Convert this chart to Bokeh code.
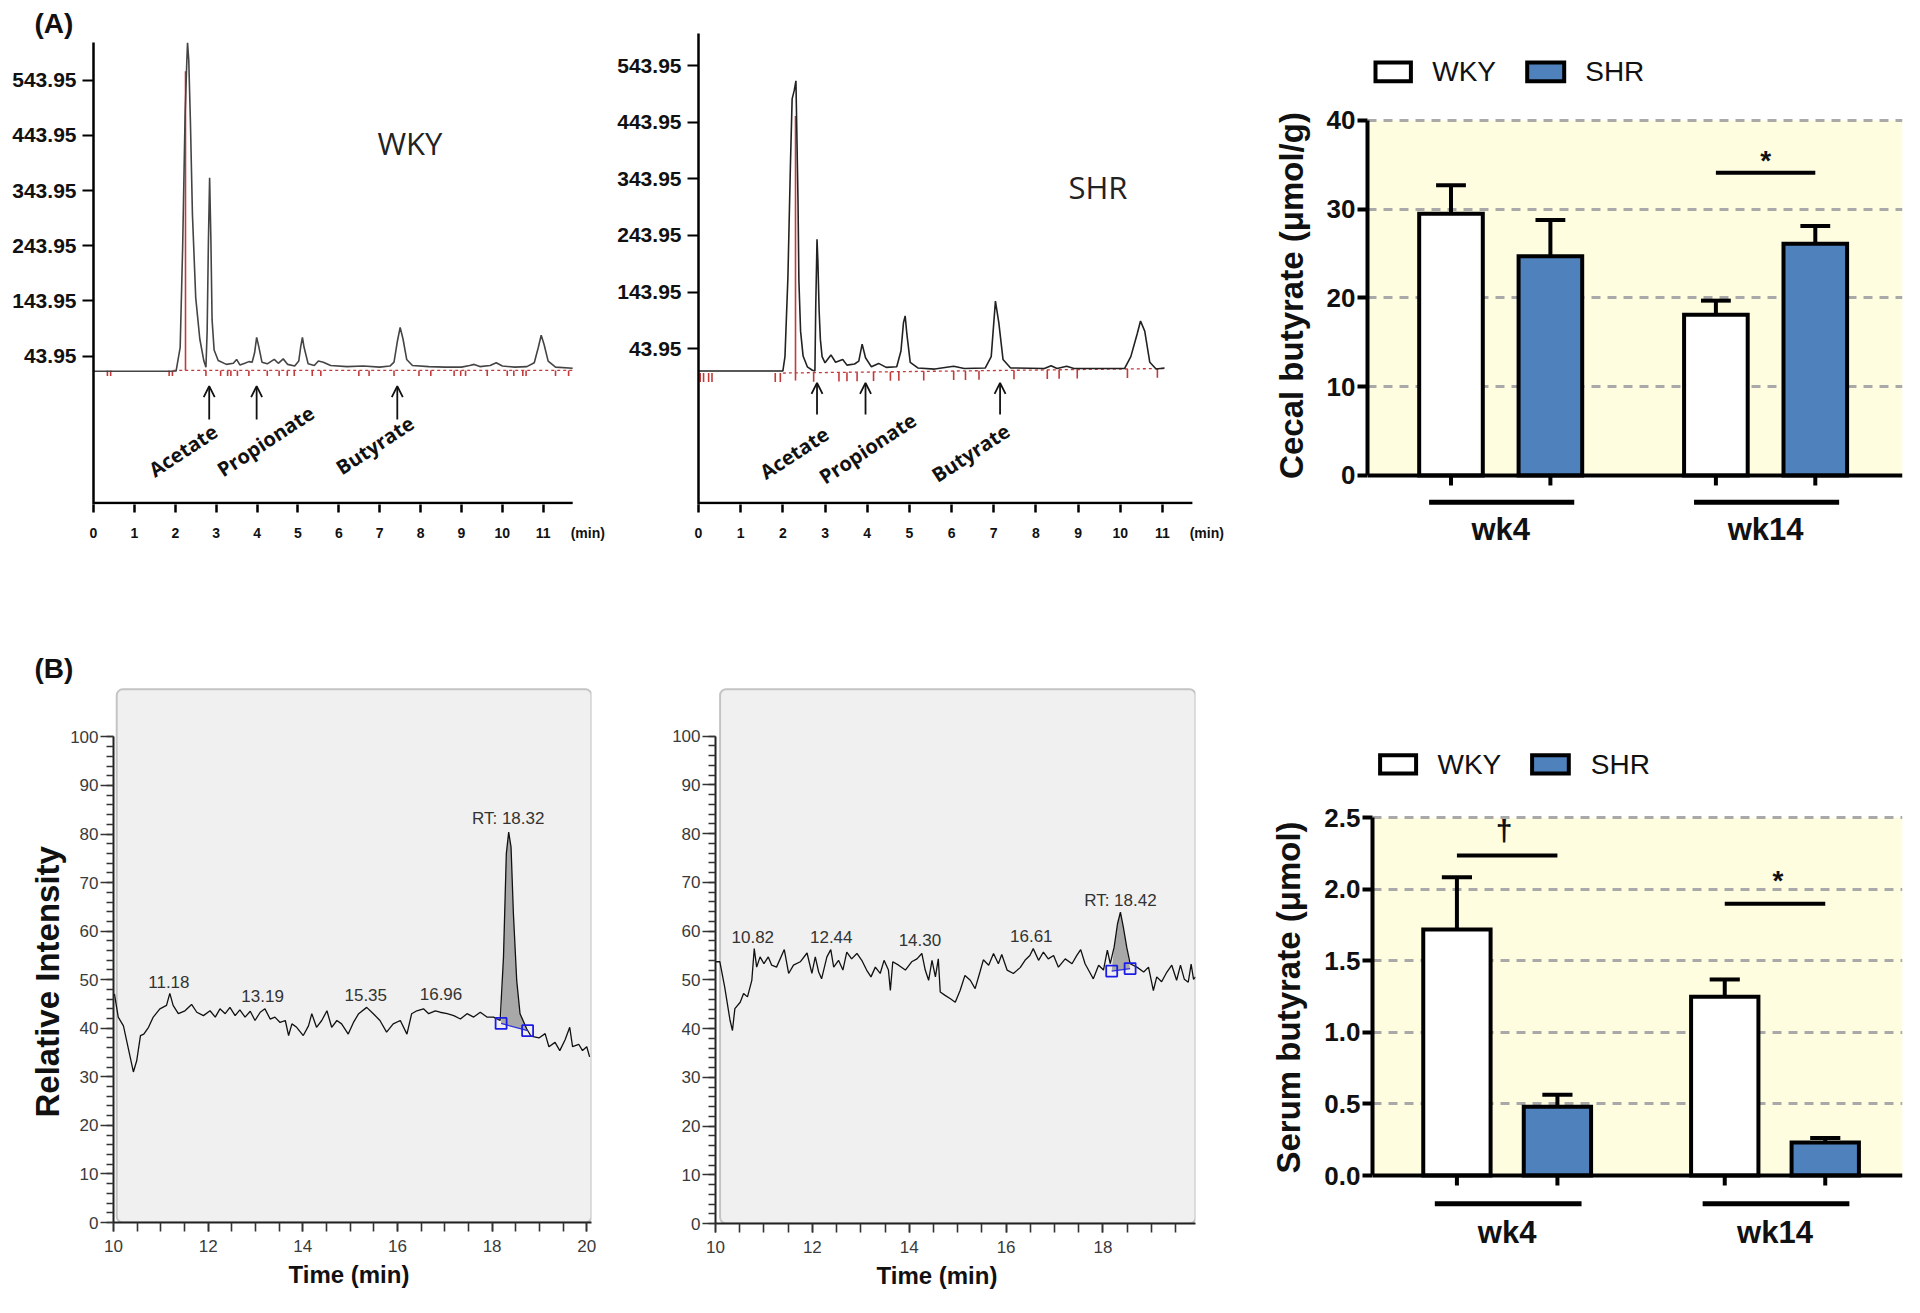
import numpy as np
from bokeh.plotting import figure
from bokeh.layouts import row, column
from bokeh.models import FixedTicker, Arrow, OpenHead, BoxAnnotation, PrintfTickFormatter, Title, Plot
from bokeh.core.properties import value
from bokeh.embed import file_html
from bokeh.resources import INLINE

ARIAL = "Liberation Sans"
HUMAN = "Open Sans"
BLUE = "#4F81BD"
CREAM = "#FFFDE0"
RED = "#C23B3B"

# ======================= DATA =======================
# (A) GC chromatograms (time in min, signal)
gc_x_ticks = list(range(0, 12))
gc_y_ticks = [43.95, 143.95, 243.95, 343.95, 443.95, 543.95]
acids = ["Acetate", "Propionate", "Butyrate"]

wky_gc = [(0.00, 16.7), (1.85, 16.7), (2.02, 17), (2.12, 60), (2.18, 240), (2.24, 480), (2.28, 573),
          (2.30, 612), (2.33, 580), (2.37, 470), (2.42, 300), (2.50, 150), (2.60, 75), (2.70, 35),
          (2.75, 24), (2.78, 90), (2.81, 250), (2.84, 367), (2.87, 260), (2.90, 110), (2.95, 55),
          (3.05, 36), (3.25, 29), (3.42, 31), (3.50, 38), (3.58, 28), (3.70, 31), (3.80, 34), (3.88, 33),
          (3.94, 50), (3.99, 78), (4.04, 62), (4.12, 33), (4.25, 30), (4.42, 38), (4.52, 31), (4.64, 39),
          (4.75, 29), (4.92, 26), (5.02, 35), (5.07, 62), (5.11, 78), (5.15, 60), (5.25, 30), (5.40, 27),
          (5.50, 35), (5.62, 33), (5.80, 27), (6.20, 25), (6.60, 26), (7.00, 24), (7.25, 26), (7.35, 33),
          (7.43, 70), (7.50, 96), (7.57, 75), (7.66, 38), (7.80, 27), (8.20, 25), (8.60, 24), (9.00, 24),
          (9.20, 27), (9.31, 29), (9.45, 25), (9.70, 27), (9.85, 32), (10.00, 26), (10.30, 24), (10.60, 25),
          (10.78, 32), (10.88, 60), (10.95, 82), (11.02, 65), (11.12, 35), (11.30, 24), (11.72, 22)]

shr_gc = [(0.00, 4.5), (2.00, 4.5), (2.05, 30), (2.12, 170), (2.18, 370), (2.22, 485), (2.27, 500),
          (2.31, 517), (2.33, 432), (2.36, 300), (2.38, 165), (2.42, 75), (2.48, 31), (2.58, 12),
          (2.70, 6), (2.76, 4.5), (2.78, 120), (2.81, 237), (2.83, 200), (2.86, 111), (2.89, 60),
          (2.93, 30), (3.00, 19), (3.14, 33), (3.25, 20), (3.42, 25), (3.52, 15), (3.70, 17), (3.80, 22),
          (3.88, 52), (3.96, 28), (4.10, 12), (4.27, 18), (4.45, 11), (4.70, 12), (4.80, 40), (4.86, 90),
          (4.90, 102), (4.94, 70), (5.02, 20), (5.20, 10), (5.60, 8), (6.05, 13), (6.30, 9), (6.80, 10),
          (6.94, 30), (7.04, 128), (7.12, 90), (7.22, 25), (7.40, 10), (8.20, 9), (8.36, 14), (8.50, 9),
          (8.73, 13), (8.90, 9), (10.10, 9), (10.25, 30), (10.40, 70), (10.48, 93), (10.58, 75),
          (10.70, 20), (10.85, 8), (11.05, 10)]

wky_acid_rt = [2.83, 3.99, 7.43]
shr_acid_rt = [2.81, 3.96, 7.15]
wky_int_marks = [0.34, 0.42, 1.85, 1.93, 2.75, 3.11, 3.28, 3.36, 3.52, 3.80, 4.25, 4.54, 4.74, 4.91,
                 5.35, 5.56, 6.49, 6.74, 7.35, 7.96, 8.25, 8.82, 8.98, 9.10, 9.63, 10.12, 10.28,
                 10.50, 10.58, 11.30, 11.62]
shr_int_marks = [0.04, 0.12, 0.24, 0.32, 1.82, 1.94, 2.73, 3.33, 3.52, 3.76, 4.15, 4.55, 4.75, 5.34,
                 6.05, 6.33, 6.65, 7.48, 8.27, 8.55, 8.98, 10.17, 10.88]

# Cecal butyrate (umol/g), mean and SEM
weeks = ["wk4", "wk14"]
strains = ["WKY", "SHR"]
cecal_wky = [29.5, 18.1]
cecal_wky_sem = [3.2, 1.6]
cecal_shr = [24.7, 26.1]
cecal_shr_sem = [4.1, 2.0]
cecal_ticks = [0, 10, 20, 30, 40]

# (B) LC-MS chromatograms (time in min, relative intensity)
lc_wky = [(10.02, 47.1), (10.10, 42.3), (10.21, 40.5), (10.42, 31.0), (10.49, 33.3), (10.57, 38.5),
          (10.64, 38.8), (10.74, 40.2), (10.84, 42.3), (10.98, 44.0), (11.12, 44.7), (11.19, 47.2),
          (11.26, 44.7), (11.37, 43.0), (11.51, 43.6), (11.65, 44.9), (11.76, 43.3), (11.90, 42.6),
          (12.04, 43.6), (12.15, 42.3), (12.25, 44.0), (12.36, 43.0), (12.46, 44.3), (12.57, 42.6),
          (12.67, 43.8), (12.78, 42.3), (12.89, 43.5), (12.99, 41.6), (13.10, 43.3), (13.20, 44.0),
          (13.31, 41.9), (13.41, 42.3), (13.52, 41.2), (13.63, 41.6), (13.70, 38.5), (13.77, 40.9),
          (13.87, 40.2), (14.01, 38.5), (14.12, 40.5), (14.19, 43.0), (14.29, 40.2), (14.40, 41.6),
          (14.51, 43.6), (14.61, 40.2), (14.72, 41.6), (14.82, 40.9), (14.96, 38.8), (15.07, 41.2),
          (15.18, 43.0), (15.35, 44.3), (15.49, 43.0), (15.63, 41.6), (15.77, 39.2), (15.91, 40.9),
          (16.06, 41.6), (16.20, 38.8), (16.30, 43.0), (16.41, 43.6), (16.55, 44.0), (16.66, 43.0),
          (16.80, 43.6), (16.90, 43.3), (17.05, 43.0), (17.19, 42.6), (17.33, 41.9), (17.47, 43.0),
          (17.61, 42.3), (17.75, 43.3), (17.89, 42.3), (18.03, 42.3), (18.17, 41.6), (18.24, 54.6),
          (18.30, 75.9), (18.35, 80.4), (18.40, 77.3), (18.45, 63.6), (18.52, 49.8), (18.59, 43.0),
          (18.73, 39.9), (18.82, 38.4), (18.99, 38.0), (19.12, 38.9), (19.20, 36.2), (19.33, 37.1),
          (19.43, 35.4), (19.54, 37.6), (19.64, 40.2), (19.70, 36.2), (19.83, 36.7), (19.91, 35.4),
          (20.00, 36.2), (20.06, 34.1)]

lc_shr = [(10.00, 53.7), (10.09, 53.7), (10.19, 48.5), (10.30, 41.7), (10.35, 39.6), (10.40, 44.1),
          (10.51, 45.4), (10.58, 47.2), (10.66, 46.5), (10.75, 49.9), (10.80, 56.4), (10.85, 52.6),
          (10.92, 54.7), (11.00, 53.3), (11.09, 54.7), (11.16, 53.0), (11.26, 52.6), (11.42, 56.2),
          (11.51, 51.3), (11.61, 53.0), (11.75, 53.7), (11.89, 55.5), (11.99, 51.3), (12.06, 54.7),
          (12.13, 51.6), (12.19, 50.2), (12.30, 54.7), (12.38, 56.2), (12.44, 52.6), (12.54, 54.0),
          (12.63, 52.0), (12.71, 55.7), (12.81, 54.3), (12.92, 55.4), (13.02, 54.0), (13.12, 52.0),
          (13.21, 50.6), (13.30, 52.6), (13.40, 51.3), (13.48, 54.0), (13.57, 52.0), (13.61, 47.8),
          (13.66, 53.7), (13.78, 53.0), (13.92, 52.0), (14.05, 53.7), (14.16, 54.3), (14.26, 55.4),
          (14.33, 52.0), (14.40, 49.9), (14.47, 54.0), (14.54, 50.6), (14.60, 54.3), (14.64, 47.5),
          (14.74, 46.8), (14.85, 46.1), (14.95, 45.4), (15.05, 47.8), (15.15, 50.9), (15.26, 49.9),
          (15.36, 48.2), (15.46, 51.6), (15.53, 54.1), (15.64, 53.0), (15.74, 55.4), (15.84, 53.3),
          (15.91, 55.2), (16.02, 52.0), (16.15, 51.3), (16.29, 52.5), (16.39, 54.0), (16.49, 55.0),
          (16.56, 56.4), (16.67, 54.0), (16.77, 55.7), (16.87, 54.3), (16.98, 55.0), (17.08, 52.6),
          (17.22, 54.3), (17.36, 53.3), (17.46, 55.0), (17.54, 56.2), (17.63, 53.3), (17.74, 51.3),
          (17.80, 50.2), (17.91, 53.0), (18.01, 52.0), (18.09, 56.1), (18.15, 53.3), (18.23, 56.7),
          (18.30, 61.5), (18.36, 63.9), (18.42, 60.8), (18.49, 56.7), (18.56, 53.3), (18.70, 52.6),
          (18.84, 51.6), (18.94, 52.6), (19.04, 47.8), (19.11, 50.6), (19.21, 49.6), (19.32, 51.6),
          (19.42, 53.0), (19.52, 49.9), (19.60, 53.0), (19.68, 50.1), (19.76, 49.5), (19.82, 53.2),
          (19.87, 50.1), (19.91, 50.6)]

lc_wky_peak_edges = [(18.19, 41.0), (18.75, 39.5)]
lc_shr_peak_edges = [(18.18, 51.8), (18.56, 52.3)]
lc_wky_labels = ["11.18", "13.19", "15.35", "16.96", "RT: 18.32"]
lc_wky_label_t = [11.17, 13.15, 15.33, 16.92, 18.34]
lc_wky_label_v = [49.5, 46.7, 46.9, 47.1, 83.1]
lc_shr_labels = ["10.82", "12.44", "14.30", "16.61", "RT: 18.42"]
lc_shr_label_t = [10.77, 12.39, 14.22, 16.52, 18.36]
lc_shr_label_v = [58.8, 58.8, 58.1, 59.0, 66.3]

# Serum butyrate (umol), mean and SEM
serum_wky = [1.72, 1.25]
serum_wky_sem = [0.365, 0.12]
serum_shr = [0.48, 0.23]
serum_shr_sem = [0.085, 0.033]
serum_ticks = [0.0, 0.5, 1.0, 1.5, 2.0, 2.5]

# ======================= HELPERS =======================
ROW1_H, ROW2_H = 650, 647
EXTRA = {"frame_align": False} if "frame_align" in Plot.properties() else {}


def base_fig(width, height, xr, yr, left, right, top, bottom):
    p = figure(width=width, height=height, x_range=xr, y_range=yr, output_backend="svg",
               toolbar_location=None, title=None,
               min_border_left=left, min_border_right=right, min_border_top=top, min_border_bottom=bottom,
               **EXTRA)
    p.outline_line_color = None
    p.background_fill_color = "white"
    p.border_fill_color = "white"
    return p


def panel_title(text, size, align="left", offset=0, standoff=0):
    return Title(text=text, align=align, offset=offset, standoff=standoff, text_font=ARIAL,
                 text_font_style="bold", text_font_size=size, text_color="#111")


def gc_panel(trace, width, borders, xr, yr, x_axis_y, x_axis_end, marks, mark_len, base_line, red_peak,
             rts, arrow_v, lab_pos, name, name_pos, min_tick, color):
    p = base_fig(width, ROW1_H, xr, yr, *borders)
    p.grid.visible = False
    t, v = zip(*trace)
    (bx0, by0), (bx1, by1) = base_line
    p.segment(x0=[bx0], y0=[by0], x1=[bx1], y1=[by1], line_color=RED, line_width=1.3, line_dash="3 3")
    mb = np.interp(marks, [bx0, bx1], [by0, by1])
    p.segment(x0=marks, y0=mb, x1=marks, y1=mb - mark_len, line_color=RED, line_width=1.6)
    rx, ry0, ry1 = red_peak
    p.segment(x0=[rx], y0=[ry0], x1=[rx], y1=[ry1], line_color=RED, line_width=1.6)
    p.line(list(t), list(v), line_color=color, line_width=1.6)
    # x axis line (drawn just inside the frame so that it is not clipped)
    p.segment(x0=[0], y0=[x_axis_y], x1=[x_axis_end], y1=[x_axis_y], line_color="black", line_width=2.6)
    for rt in rts:
        p.add_layout(Arrow(end=OpenHead(size=11, line_width=1.8, line_color="#111"),
                           x_start=rt, y_start=arrow_v[0], x_end=rt, y_end=arrow_v[1],
                           line_width=1.8, line_color="#111"))
    p.text(x=[q[0] for q in lab_pos], y=[q[1] for q in lab_pos], text=acids, angle=0.58,
           text_font=value(HUMAN), text_font_style="bold", text_font_size="20px",
           text_align="center", text_baseline="middle", text_color="#111")
    p.text(x=[name_pos[0]], y=[name_pos[1]], text=[name], text_font=value(HUMAN),
           text_font_size="31px", text_align="center", text_baseline="middle", text_color="#222")
    xa, ya = p.xaxis[0], p.yaxis[0]
    xa.ticker = FixedTicker(ticks=gc_x_ticks + [min_tick], minor_ticks=gc_x_ticks)
    xa.major_label_overrides = {min_tick: "(min)"}
    xa.axis_line_color = None
    xa.major_label_text_font = ARIAL
    xa.major_label_text_font_size = "14px"
    xa.major_label_text_font_style = "bold"
    xa.major_label_text_color = "#111"
    xa.major_tick_out = 0
    xa.major_tick_in = 0
    xa.minor_tick_out = 8
    xa.minor_tick_in = 0
    xa.minor_tick_line_width = 2.5
    xa.minor_tick_line_color = "black"
    xa.major_label_standoff = 12
    ya.ticker = FixedTicker(ticks=gc_y_ticks, minor_ticks=[])
    ya.major_label_overrides = {tk: f"{tk:.2f}" for tk in gc_y_ticks}
    ya.major_label_text_font = ARIAL
    ya.major_label_text_font_size = "21px"
    ya.major_label_text_font_style = "bold"
    ya.major_label_text_color = "#111"
    ya.major_tick_out = 11
    ya.major_tick_in = 0
    ya.major_tick_line_width = 2
    ya.axis_line_width = 2.5
    ya.major_label_standoff = 6
    return p


G = 2.665  # offset of the second group in bar units


def bar_panel(wky, wky_sem, shr, shr_sem, ticks, yr, height, borders, xend, bar_w, ylabel, fmt,
              sig, legend_geo, tick_len, group_y, label_y, ylabel_standoff):
    xstart = -0.84
    p = base_fig(654, height, (xstart, xend), yr, *borders)
    top_tick = ticks[-1]
    p.quad(left=[xstart], right=[xend], bottom=[0], top=[top_tick], fill_color=CREAM, line_color=None,
           level="image")
    p.xgrid.visible = False
    p.ygrid.ticker = FixedTicker(ticks=ticks[1:], minor_ticks=[])
    p.ygrid.grid_line_color = "#A9A9A9"
    p.ygrid.grid_line_width = 3
    p.ygrid.grid_line_dash = "9 7"
    pos_wky = [g * G for g in range(len(weeks))]
    pos_shr = [g * G + 1 for g in range(len(weeks))]
    for pos, val, sem in ((pos_wky, wky, wky_sem), (pos_shr, shr, shr_sem)):
        top = [a + b for a, b in zip(val, sem)]
        p.segment(x0=pos, y0=val, x1=pos, y1=top, line_color="black", line_width=4)
        p.segment(x0=[x - 0.15 for x in pos], y0=top, x1=[x + 0.15 for x in pos], y1=top,
                  line_color="black", line_width=4)
    p.vbar(x=pos_wky, top=wky, width=bar_w, fill_color="white", line_color="black", line_width=4,
           line_join="miter")
    p.vbar(x=pos_shr, top=shr, width=bar_w, fill_color=BLUE, line_color="black", line_width=4,
           line_join="miter")
    # significance marks
    for gi, ly, sym, sx, sy, fs in sig:
        p.segment(x0=[pos_wky[gi]], y0=[ly], x1=[pos_shr[gi]], y1=[ly], line_color="black", line_width=4)
        p.text(x=[sx], y=[sy], text=[sym], text_font=value(ARIAL), text_font_style="bold",
               text_font_size=fs, text_align="center", text_baseline="middle", text_color="#111")
    # x axis: line, ticks under bars, group underlines and group names
    p.segment(x0=[xstart], y0=[0], x1=[xend], y1=[0], line_color="black", line_width=4)
    bars = pos_wky + pos_shr
    p.segment(x0=bars, y0=[0] * len(bars), x1=bars, y1=[-tick_len] * len(bars), line_color="black",
              line_width=4)
    p.segment(x0=[x - 0.22 for x in pos_wky], y0=[group_y] * 2, x1=[x + 0.24 for x in pos_shr],
              y1=[group_y] * 2, line_color="black", line_width=5)
    centers = [(a + b) / 2 for a, b in zip(pos_wky, pos_shr)]
    p.text(x=centers, y=[label_y] * 2, text=weeks, text_font=value(ARIAL), text_font_style="bold",
           text_font_size="31px", text_align="center", text_baseline="middle", text_color="#111")
    p.xaxis.visible = False
    # legend
    (wb0, wb1, sb0, sb1, yb0, yb1, wtx, stx, ty) = legend_geo
    p.quad(left=[wb0, sb0], right=[wb1, sb1], bottom=[yb0, yb0], top=[yb1, yb1],
           fill_color=["white", BLUE], line_color="black", line_width=4, line_join="miter")
    p.text(x=[wtx, stx], y=[ty, ty], text=strains, text_font=value(ARIAL), text_font_size="28px",
           text_align="left", text_baseline="middle", text_color="#111")
    ya = p.yaxis[0]
    ya.ticker = FixedTicker(ticks=ticks, minor_ticks=[])
    ya.bounds = (0, top_tick)
    if fmt:
        ya.formatter = PrintfTickFormatter(format=fmt)
    ya.major_tick_out = 10
    ya.major_tick_in = 0
    ya.major_tick_line_width = 4
    ya.axis_line_width = 4
    ya.major_label_text_font = ARIAL
    ya.major_label_text_font_style = "bold"
    ya.major_label_text_font_size = "26px"
    ya.major_label_text_color = "#111"
    ya.major_label_standoff = 2
    ya.axis_label = ylabel
    ya.axis_label_text_font = ARIAL
    ya.axis_label_text_font_style = "bold"
    ya.axis_label_text_font_size = "33px"
    ya.axis_label_text_color = "#111"
    ya.axis_label_standoff = ylabel_standoff
    return p


def lc_panel(trace, edges, labels, lab_t, lab_v, width, borders, xend, box_left, box_top, xmajor):
    p = base_fig(width, ROW2_H, (10, xend), (0, 111), *borders)
    p.grid.visible = False
    p.add_layout(BoxAnnotation(left=box_left, right=xend, bottom=0, top=box_top, fill_color="#F0F0F0",
                               fill_alpha=1, line_color="#C4C4C4", line_width=2, line_alpha=1,
                               border_radius=6, level="underlay"))
    t, v = zip(*trace)
    (t0, v0), (t1, v1) = edges
    inner = [(a, b) for a, b in trace if t0 < a < t1]
    px = [t0] + [a for a, _ in inner] + [t1]
    py = [v0] + [b for _, b in inner] + [v1]
    p.patch(px, py, fill_color="#A8A8A8", line_color=None)
    p.line(list(t), list(v), line_color="#111", line_width=1.3)
    p.line([t0, t1], [v0, v1], line_color="#2E2EDD", line_width=1.2)
    p.scatter([t0, t1], [v0, v1], marker="square", size=11, fill_color=None, line_color="#1C1CE8",
              line_width=1.8)
    p.text(x=lab_t, y=lab_v, text=labels, text_font=value(ARIAL), text_font_size="17px",
           text_color="#333", text_align="center", text_baseline="middle")
    xa, ya = p.xaxis[0], p.yaxis[0]
    nminor = int(round((xend - 10) / 0.5))
    xa.ticker = FixedTicker(ticks=xmajor, minor_ticks=[10 + 0.5 * i for i in range(nminor + 1)])
    ya.ticker = FixedTicker(ticks=list(range(0, 101, 10)), minor_ticks=list(range(0, 101, 2)))
    ya.bounds = (0, 100)
    for a in (xa, ya):
        a.axis_line_width = 2
        a.axis_line_color = "#222"
        a.major_tick_line_color = "#333"
        a.minor_tick_line_color = "#333"
        a.major_tick_line_width = 1.6
        a.minor_tick_line_width = 1.6
        a.major_tick_in = 0
        a.minor_tick_in = 0
        a.major_label_text_font = ARIAL
        a.major_label_text_font_size = "17px"
        a.major_label_text_color = "#3a3a3a"
    xa.major_tick_out = 9
    xa.minor_tick_out = 9
    xa.major_label_standoff = 8
    ya.major_tick_out = 13
    ya.minor_tick_out = 7
    ya.major_label_standoff = 2
    return p


# ======================= PANELS =======================
fA1 = gc_panel(wky_gc, 607, (93, 7, 42, 146), (0, 12.4), (-224.8, 612.1), -222.1, 11.72, wky_int_marks, 10,
               ((1.95, 18), (11.72, 18)), (2.25, 18, 560), wky_acid_rt, (-70.9, -10.5),
               [(2.19, -127), (4.21, -110), (6.88, -117.5)], strains[0], (7.74, 430.8), 12.09, "#444")
fA1.add_layout(panel_title("(A)", "28px", "left", -59, 8), "above")

fA2 = gc_panel(shr_gc, 643, (91, 29, 33, 146), (0, 12.4), (-231.1, 600.5), -228.4, 11.71, shr_int_marks, 16,
               ((2.0, 1), (11.05, 9)), (2.30, -12, 455), shr_acid_rt, (-72.1, -16.2),
               [(2.27, -140), (4.01, -132), (6.45, -140)], strains[1], (9.47, 328.7), 12.05, "#222")


def ax3(X):
    return -0.84 + (X - 1367.3) / 99.4


def ay3(Y):
    return (475 - Y) / 8.875


fA3 = bar_panel(cecal_wky, cecal_wky_sem, cecal_shr, cecal_shr_sem, cecal_ticks, (-7.44, 48.0), ROW1_H,
                (117, 2, 49, 109), -0.84 + 535 / 99.4, 0.64, "Cecal butyrate (μmol/g)", None,
                [(1, 34.1, "*", G + 0.5, 35.5, "28px")],
                (ax3(1375.3), ax3(1410.7), ax3(1527), ax3(1564), ay3(80.7), ay3(62), ax3(1432), ax3(1585),
                 ay3(71.3)),
                10 / 8.875, ay3(501.7), ay3(529), 14)

fB1 = lc_panel(lc_wky, lc_wky_peak_edges, lc_wky_labels, lc_wky_label_t, lc_wky_label_v, 630,
               (113, 39, 33, 75), 20.1, 10.068, 109.8, [10, 12, 14, 16, 18, 20])
fB1.add_layout(panel_title("(B)", "28px", "left", -79, 0), "above")
fB1.add_layout(panel_title("Relative Intensity", "33px", "left", 105, 4), "left")
fB1.add_layout(panel_title("Time (min)", "24px", "left", 175, 8), "below")

fB2 = lc_panel(lc_shr, lc_shr_peak_edges, lc_shr_labels, lc_shr_label_t, lc_shr_label_v, 620,
               (85, 55, 32, 74), 19.91, 10.095, 109.6, [10, 12, 14, 16, 18])
fB2.add_layout(panel_title("Time (min)", "24px", "left", 161, 8), "below")


def bx3(X):
    return -0.84 + (X - 1371.7) / 100.5


def by3(Y):
    return (1175 - Y) / 143.08


fB3 = bar_panel(serum_wky, serum_wky_sem, serum_shr, serum_shr_sem, serum_ticks, (-0.496, 2.984), ROW2_H,
                (122, 2, 98, 51), -0.84 + 530 / 100.5, 0.67, "Serum butyrate (μmol)", "%.1f",
                [(0, 2.237, "†", 0.47, 2.41, "30px"), (1, 1.899, "*", G + 0.53, 2.06, "28px")],
                (bx3(1379.3), bx3(1415.3), bx3(1531.3), bx3(1568), by3(773), by3(754.7), bx3(1436.7),
                 bx3(1590), by3(763.9)),
                10 / 143.08, by3(1203.3), by3(1231.7), 14)

layout = column(row(fA1, fA2, fA3, spacing=0), row(fB1, fB2, fB3, spacing=0), spacing=0)

with open("out.html", "w") as f:
    f.write(file_html(layout, INLINE))
